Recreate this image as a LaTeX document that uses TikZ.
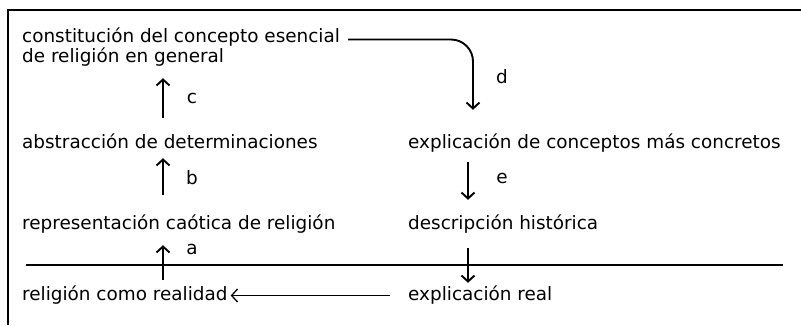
\documentclass[tikz,border=0pt]{standalone}
\usepackage{fontspec}
\setmainfont{DejaVu Sans}
\usetikzlibrary{positioning,arrows.meta}

\begin{document}
\begin{tikzpicture}[
    x=1pt, y=-1pt,
    % Text entries
    entry/.style={
        anchor=base west,
        inner sep=0pt,
        text height=13pt,
        text depth=4pt,
        font=\fontsize{18.4}{20}\selectfont
    },
    % Step letters
    tag/.style={
        inner sep=0pt,
        font=\fontsize{18.4}{20}\selectfont
    },
    % Arrow
    flow/.style={
        -{Straight Barb[length=6pt,width=13pt]},
        line width=1.9pt
    },
    % Frame and divider
    frame/.style={line width=2pt},
    divider/.style={line width=1.6pt}
]
\useasboundingbox (0,0) rectangle (801,325);

% Left column (ascending)
\node[entry] (concept) at (22,42) {constitución del concepto esencial};
\node[entry] (general) at (22,62) {de religión en general};
\node[entry] (abstr) at (22,148) {abstracción de determinaciones};
\node[entry] (chaos) at (22,229) {representación caótica de religión};
\node[entry] (reality) at (22,300) {religión como realidad};

% Right column (descending)
\node[entry] (concrete) at (408,148) {explicación de conceptos más concretos};
\node[entry] (history) at (408,229) {descripción histórica};
\node[entry] (realexp) at (408,300) {explicación real};

% Arrow columns
\coordinate (lcol) at (163,0);
\coordinate (rcol) at (468,0);
\coordinate (dcol) at (473,0);

% Ascending path
\draw[flow, shorten <=7pt, shorten >=12pt] (reality.north -| lcol) -- (chaos.south -| lcol);
\draw[flow, shorten <=21pt, shorten >=6pt] (chaos.north -| lcol) -- (abstr.south -| lcol);
\draw[flow, shorten <=17pt, shorten >=12pt] (abstr.north -| lcol) -- (general.south -| lcol);

% Descending path
\draw[flow, rounded corners=22pt, shorten >=25pt] ([xshift=8pt,yshift=-2pt]concept.east) -| (concrete.north -| dcol);
\draw[flow, shorten <=10pt, shorten >=16pt] (concrete.south -| rcol) -- (history.north -| rcol);
\draw[flow, shorten <=15pt, shorten >=4pt] (history.south -| rcol) -- (realexp.north -| rcol);
\draw[flow, line width=1.3pt, shorten <=18pt, shorten >=3pt] (realexp.west) -- (reality.east);

% Step letters
\node[tag] (la) at (192,249) {a};
\node[tag] (lb) at (192,178) {b};
\node[tag] (lc) at (192,98) {c};
\node[tag] (ld) at (502,77) {d};
\node[tag] (le) at (502,178) {e};

% Frame and divider
\draw[frame] (8,325) -- (8,10) -- (801,10);
\draw[divider] (26,265) -- (783,265);

\end{tikzpicture}
\end{document}
